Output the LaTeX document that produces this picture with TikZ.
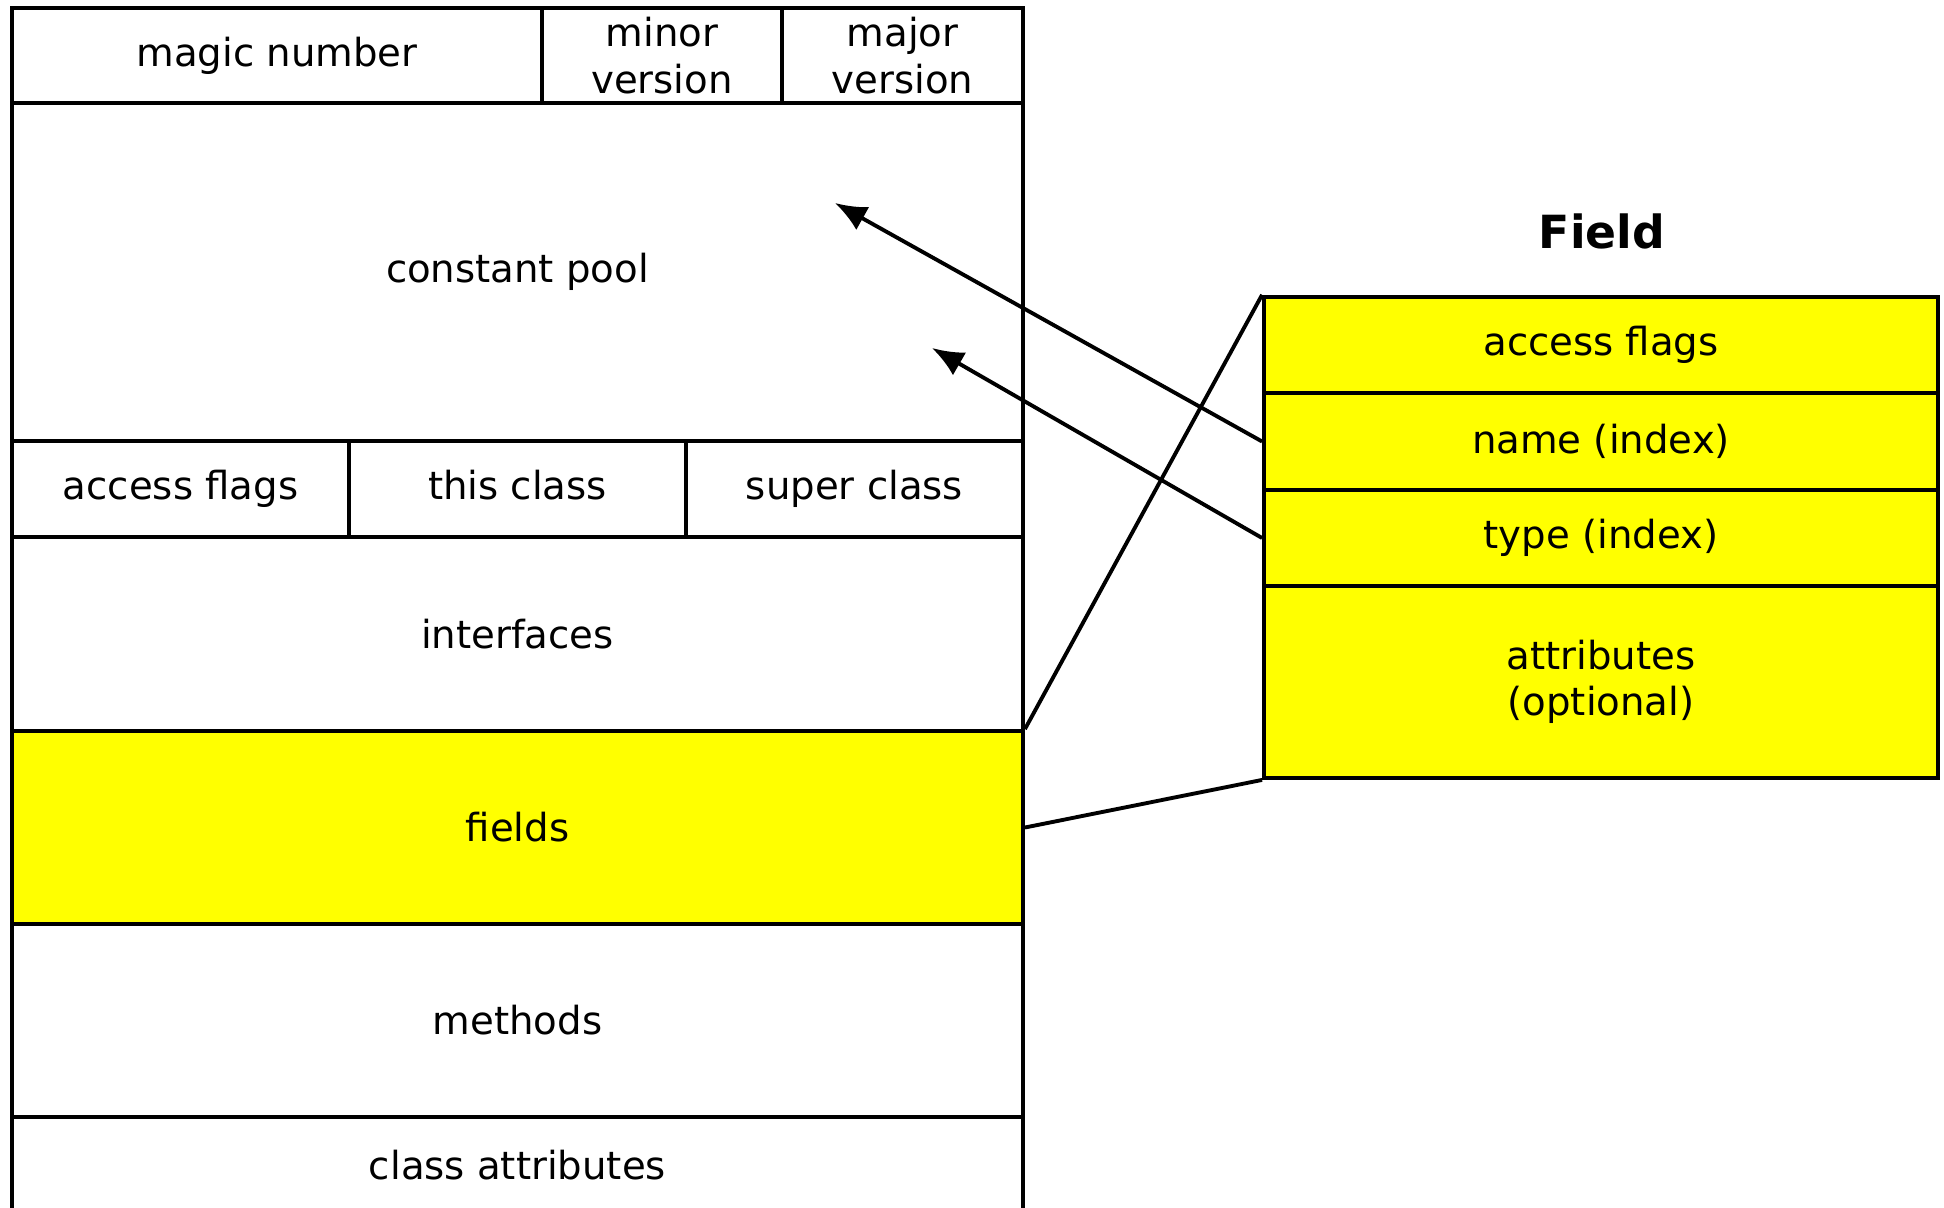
\documentclass[tikz,border=0pt]{standalone}
\usepackage{fontspec}
\setmainfont{DejaVu Sans}
\usetikzlibrary{arrows,arrows.meta,shapes,positioning}
\usetikzlibrary{calc}
\definecolor{fieldyellow}{RGB}{255,255,0}

\begin{document}
\begin{tikzpicture}[auto, line width=1.1pt]
          \tikzstyle{cell} = [rectangle, draw, text centered, align=center, inner sep=0pt,
                              font=\fontsize{11}{13.2}\selectfont]
          \tikzstyle{slot} = [cell, text height=1.6ex, text depth=0.5ex]
          \tikzstyle{hot} = [cell, fill=fieldyellow]
          \tikzstyle{arrow} = [draw, -{Latex[length=9pt,width=7.5pt]}]

          \path[use as bounding box, clip] (0,0) rectangle (19.44,-12.07);

          % class file layout
          \node[cell, minimum width=5.30cm, minimum height=0.95cm] (magic) at (2.77,-0.555)
            {magic number};
          \node[cell, minimum width=2.40cm, minimum height=0.95cm] (minor) at (6.62,-0.555)
            {minor\\version};
          \node[cell, minimum width=2.41cm, minimum height=0.95cm] (major) at (9.025,-0.555)
            {major\\version};
          \node[cell, minimum width=10.11cm, minimum height=3.38cm] (cpool) at (5.175,-2.72)
            {constant pool};
          \node[slot, minimum width=3.37cm, minimum height=0.96cm] (cflags) at (1.805,-4.89)
            {access flags};
          \node[slot, minimum width=3.37cm, minimum height=0.96cm] (thisclass) at (5.175,-4.89)
            {this class};
          \node[slot, minimum width=3.37cm, minimum height=0.96cm] (superclass) at (8.545,-4.89)
            {super class};
          \node[cell, minimum width=10.11cm, minimum height=1.94cm] (ifaces) at (5.175,-6.34)
            {interfaces};
          \node[hot, minimum width=10.11cm, minimum height=1.93cm] (fields) at (5.175,-8.275)
            {fields};
          \node[cell, minimum width=10.11cm, minimum height=1.93cm] (methods) at (5.175,-10.205)
            {methods};
          \node[cell, minimum width=10.11cm, minimum height=0.97cm] (cattrs) at (5.175,-11.655)
            {class attributes};

          % field structure
          \node[font=\fontsize{13}{15}\selectfont\bfseries] (fieldtitle) at (16.02,-2.31) {Field};
          \node[hot, minimum width=6.74cm, minimum height=0.965cm] (faccess) at (16.01,-3.45)
            {access flags};
          \node[hot, minimum width=6.74cm, minimum height=0.96cm] (fname) at (16.01,-4.415)
            {name (index)};
          \node[hot, minimum width=6.74cm, minimum height=0.965cm] (ftype) at (16.01,-5.38)
            {type (index)};
          \node[hot, minimum width=6.74cm, minimum height=1.92cm] (fattrs) at (16.01,-6.82)
            {attributes\\(optional)};

          \coordinate (nametip) at (8.35,-2.03);
          \coordinate (typetip) at (9.32,-3.48);

          \draw (fields.north east) -- (faccess.north west);
          \draw (fields.east) -- (fattrs.south west);
          \path[arrow] (fname.west) -- (nametip);
          \path[arrow] (ftype.west) -- (typetip);
        \end{tikzpicture}
\end{document}
